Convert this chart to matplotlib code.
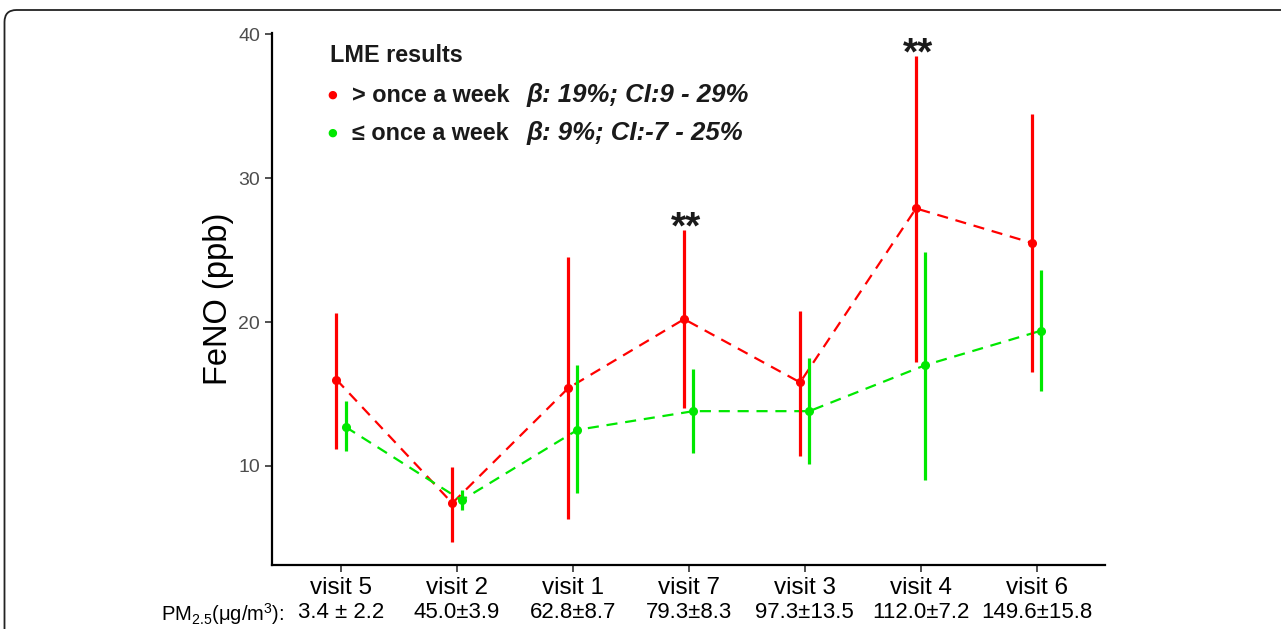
import numpy as np
import matplotlib.pyplot as plt
from matplotlib.patches import FancyBboxPatch
from matplotlib import transforms

plt.rcParams['font.family'] = ['Liberation Sans', 'DejaVu Sans']
plt.rcParams['mathtext.fontset'] = 'custom'
plt.rcParams['mathtext.rm'] = 'Liberation Sans'
plt.rcParams['mathtext.it'] = 'Liberation Sans:italic'

visits = ['visit 5', 'visit 2', 'visit 1', 'visit 7', 'visit 3', 'visit 4', 'visit 6']
pm25 = ['3.4 \u00b1 2.2', '45.0\u00b13.9', '62.8\u00b18.7', '79.3\u00b18.3',
        '97.3\u00b113.5', '112.0\u00b17.2', '149.6\u00b115.8']

# > once a week
red_mean = [16.0, 7.4, 15.4, 20.2, 15.8, 27.9, 25.5]
red_lo = [11.2, 4.7, 6.3, 14.0, 10.7, 17.2, 16.5]
red_hi = [20.6, 9.9, 24.5, 26.4, 20.8, 38.5, 34.5]
# <= once a week
green_mean = [12.7, 7.6, 12.5, 13.8, 13.8, 17.0, 19.4]
green_lo = [11.0, 6.9, 8.1, 10.9, 10.1, 9.0, 15.2]
green_hi = [14.5, 8.3, 17.0, 16.7, 17.5, 24.9, 23.6]
# significance marks
sig = ['', '', '', '**', '', '**', '']

RED = '#ff0000'
GREEN = '#00e800'

W, H = 1281, 629
fig = plt.figure(figsize=(W / 100, H / 100), dpi=100)
ax = fig.add_axes([272 / W, 1 - 565 / H, (1105 - 272) / W, (565 - 33) / H])

x = np.arange(1, len(visits) + 1)
dodge = 0.04

for xs, m, lo, hi, c in [(x - dodge, red_mean, red_lo, red_hi, RED),
                         (x + dodge, green_mean, green_lo, green_hi, GREEN)]:
    ax.vlines(xs, lo, hi, color=c, lw=2.3, zorder=3)
    ax.plot(xs, m, color=c, lw=1.6, ls=(0, (5, 3.5)), zorder=2)
    ax.plot(xs, m, 'o', color=c, ms=5.5, zorder=4)

for xi, s, top in zip(x - dodge, sig, red_hi):
    if s:
        ax.text(xi + 0.02, top + 0.1, s, ha='center', va='center', fontsize=28,
                fontweight='bold', color='#1a1a1a')

ax.set_xlim(0.405, 7.59)
ax.set_ylim(3.1, 40.1)
ax.set_yticks([10, 20, 30, 40])
ax.set_xticks(x)
ax.set_xticklabels(visits, fontsize=17.5, color='black')
ax.tick_params(axis='y', labelsize=14, labelcolor='#4d4d4d', color='#333333',
               length=5, width=1.2)
ax.tick_params(axis='x', color='#333333', length=5, width=1.2, pad=4)
ax.set_ylabel('FeNO (ppb)', fontsize=23.5, labelpad=3)
for s in ['top', 'right']:
    ax.spines[s].set_visible(False)
for s in ['left', 'bottom']:
    ax.spines[s].set_linewidth(1.6)

# PM2.5 row under the tick labels
trans = transforms.blended_transform_factory(ax.transData, fig.transFigure)
for xi, t in zip(x, pm25):
    ax.text(xi, 1 - 612 / H, t, transform=trans, ha='center', va='center',
            fontsize=16)
fig.text(284 / W, 1 - 614 / H, 'PM$_{2.5}$(\u03bcg/m$^3$):', ha='right',
         va='center', fontsize=14.5)

# legend-like annotation
fig.text(330 / W, 1 - 55 / H, 'LME results', fontsize=16.8, fontweight='bold',
         va='center', color='#1a1a1a')
rows = [(RED, '> once a week', '\u03b2: 19%; CI:9 - 29%', 95),
        (GREEN, '\u2264 once a week', '\u03b2: 9%; CI:-7 - 25%', 133)]
for c, lab, res, yp in rows:
    fig.text(332 / W, 1 - yp / H, '\u25cf', color=c, fontsize=8, ha='center',
             va='center', family='DejaVu Sans')
    fig.text(352 / W, 1 - yp / H, lab, fontsize=16.8, fontweight='bold',
             va='center', color='#1a1a1a')
    fig.text(527 / W, 1 - yp / H, res, fontsize=18.5, fontweight='bold',
             style='italic', va='center', color='#1a1a1a')

# rounded frame of the panel
frame = FancyBboxPatch((0.045, -1.0), 14, 6.29 - 0.1 + 1.0,
                       boxstyle='round,pad=0,rounding_size=0.12',
                       transform=fig.dpi_scale_trans, fill=False,
                       ec='#222222', lw=1.3)
fig.patches.append(frame)

fig.savefig('out.png', dpi=100)
